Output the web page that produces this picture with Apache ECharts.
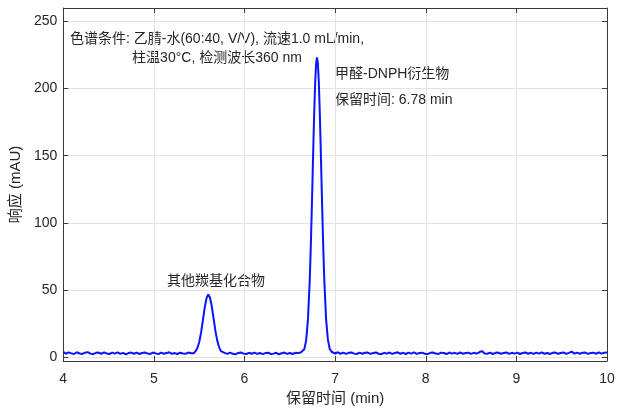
<!DOCTYPE html>
<html>
<head>
<meta charset="utf-8">
<script src="https://cdn.jsdelivr.net/npm/echarts@6/dist/echarts.min.js"></script>
<style>
  html, body { margin: 0; padding: 0; background: #fff; }
  #chart { width: 622px; height: 411px; }
</style>
</head>
<body>
<div id="chart"></div>
<script>
// baseline before the first peak
const timeA = [4.00, 4.03, 4.06, 4.09, 4.12, 4.15, 4.18, 4.21, 4.24, 4.27,
  4.30, 4.33, 4.36, 4.39, 4.42, 4.45, 4.48, 4.51, 4.54, 4.57,
  4.60, 4.63, 4.66, 4.69, 4.72, 4.75, 4.78, 4.81, 4.84, 4.87,
  4.90, 4.93, 4.96, 4.99, 5.02, 5.05, 5.08, 5.11, 5.14, 5.17,
  5.20, 5.23, 5.26, 5.29, 5.32, 5.35, 5.38, 5.41, 5.44];
const respA = [3.8, 2.4, 3.4, 2.7, 2.2, 3.5, 2.6, 2.3, 3.2, 3.6,
  2.5, 2.1, 3.1, 3.3, 2.4, 3.4, 2.6, 2.2, 3.2, 2.5,
  3.5, 2.3, 3.1, 2.0, 2.9, 3.3, 2.4, 3.2, 2.2, 3.0,
  3.4, 2.5, 2.3, 3.3, 2.7, 2.1, 3.2, 2.4, 3.0, 3.5,
  2.3, 2.9, 2.2, 3.2, 2.6, 2.4, 3.3, 2.8, 2.7];

// other carbonyl compounds (~5.6 min)
const timeP1 = [5.46, 5.48, 5.50, 5.52, 5.54, 5.56, 5.58, 5.60,
  5.62, 5.64, 5.66, 5.68, 5.70, 5.72, 5.74, 5.76];
const respP1 = [4.3, 6.7, 11.0, 17.9, 26.9, 36.4, 43.6, 46.6,
  44.1, 37.2, 28.0, 19.0, 12.0, 7.2, 4.4, 3.3];

// baseline between peaks
const timeC = [5.78, 5.81, 5.84, 5.87, 5.90, 5.93, 5.96, 5.99, 6.02, 6.05,
  6.08, 6.11, 6.14, 6.17, 6.20, 6.23, 6.26, 6.29, 6.32, 6.35,
  6.38, 6.41, 6.44, 6.47, 6.50, 6.53, 6.56, 6.59, 6.62];
const respC = [3.1, 2.3, 3.2, 2.4, 2.0, 3.0, 3.4, 2.5, 2.2, 3.1,
  2.4, 3.3, 2.3, 3.0, 2.1, 2.9, 3.2, 2.2, 2.5, 3.1,
  2.0, 2.8, 3.3, 2.3, 3.0, 2.2, 3.1, 3.0, 3.4];

// formaldehyde-DNPH peak (~6.8 min)
const timeP2 = [6.64, 6.66, 6.68, 6.70, 6.72, 6.73, 6.74, 6.75, 6.76, 6.77,
  6.78, 6.79, 6.80, 6.81, 6.82, 6.83, 6.84, 6.85, 6.86, 6.87,
  6.88, 6.90, 6.92, 6.94, 6.96, 6.98];
const respP2 = [3.6, 5.8, 12.4, 27.8, 57.6, 78.9, 103.7, 130.9, 158.6, 184.1,
  204.9, 218.5, 223.2, 218.3, 204.6, 183.7, 158.2, 130.6, 103.9, 79.2,
  58.0, 28.4, 12.9, 6.1, 3.9, 3.1];

// baseline after the main peak
const timeE = [7.00, 7.03, 7.06, 7.09, 7.12, 7.15, 7.18, 7.21, 7.24, 7.27,
  7.30, 7.33, 7.36, 7.39, 7.42, 7.45, 7.48, 7.51, 7.54, 7.57,
  7.60, 7.63, 7.66, 7.69, 7.72, 7.75, 7.78, 7.81, 7.84, 7.87,
  7.90, 7.93, 7.96, 7.99, 8.02, 8.05, 8.08, 8.11, 8.14, 8.17,
  8.20, 8.23, 8.26, 8.29, 8.32, 8.35, 8.38, 8.41, 8.44, 8.47,
  8.50, 8.53, 8.56, 8.59, 8.62, 8.65, 8.68, 8.71, 8.74, 8.77,
  8.80, 8.83, 8.86, 8.89, 8.92, 8.95, 8.98, 9.01, 9.04, 9.07,
  9.10, 9.13, 9.16, 9.19, 9.22, 9.25, 9.28, 9.31, 9.34, 9.37,
  9.40, 9.43, 9.46, 9.49, 9.52, 9.55, 9.58, 9.61, 9.64, 9.67,
  9.70, 9.73, 9.76, 9.79, 9.82, 9.85, 9.88, 9.91, 9.94, 9.97,
  10.00];
const respE = [2.6, 3.5, 2.4, 3.2, 2.3, 3.1, 3.4, 2.5, 2.2, 3.2,
  2.4, 3.1, 3.3, 2.3, 3.0, 3.4, 2.4, 2.1, 3.1, 2.5,
  3.3, 2.3, 3.0, 3.5, 2.4, 3.1, 2.2, 3.2, 2.5, 3.4,
  2.3, 3.0, 3.2, 2.4, 2.1, 3.1, 3.3, 2.5, 2.3, 3.2,
  3.0, 2.2, 3.3, 2.5, 3.1, 2.3, 3.4, 2.4, 3.0, 3.2,
  2.3, 3.1, 2.5, 3.5, 4.4, 2.6, 2.4, 3.2, 2.2, 3.1,
  3.3, 2.4, 3.0, 3.4, 2.3, 3.1, 2.5, 3.2, 2.2, 3.0,
  3.4, 2.4, 3.1, 2.3, 3.2, 2.5, 3.5, 2.4, 3.0, 2.2,
  3.1, 3.3, 2.4, 3.0, 3.4, 2.3, 3.1, 4.0, 2.5, 3.2,
  2.4, 3.1, 3.3, 2.3, 3.0, 3.2, 2.4, 3.4, 2.5, 3.1,
  3.3];

const yTicks = [0, 50, 100, 150, 200, 250];

const retention = [].concat(timeA, timeP1, timeC, timeP2, timeE);
const response = [].concat(respA, respP1, respC, respP2, respE);
const lineData = retention.map((t, i) => [t, response[i]]);

const font = '"Liberation Sans", Arial, "Noto Sans CJK SC", sans-serif';
const axisColor = '#3a3a3a';
const textColor = '#262626';

const tickCfg = { show: true, inside: true, length: 5, lineStyle: { color: axisColor, width: 1 } };
const lineCfg = { show: true, onZero: false, lineStyle: { color: axisColor, width: 1 } };

const myChart = echarts.init(document.getElementById('chart'));

myChart.setOption({
  animation: false,
  textStyle: { fontFamily: font },
  grid: { left: 63, top: 8, width: 544, height: 355, containLabel: false },
  xAxis: [{
    type: 'value', min: 4, max: 10, interval: 1,
    name: '保留时间 (min)', nameLocation: 'middle', nameGap: 30,
    nameTextStyle: { color: textColor, fontSize: 15, fontFamily: font },
    axisLine: lineCfg, axisTick: tickCfg,
    axisLabel: { color: textColor, fontSize: 14, margin: 11, fontFamily: font },
    splitLine: { show: true, lineStyle: { color: '#e3e3e3', width: 1 } }
  }, {
    type: 'value', min: 4, max: 10, interval: 1, position: 'top',
    axisLine: lineCfg, axisTick: tickCfg,
    axisLabel: { show: false }, splitLine: { show: false }
  }],
  yAxis: [{
    type: 'value', min: -3, max: 260,
    name: '响应 (mAU)', nameLocation: 'middle', nameGap: 38, nameRotate: 90,
    nameTextStyle: { color: textColor, fontSize: 15, fontFamily: font },
    axisLine: lineCfg,
    axisTick: Object.assign({ customValues: yTicks }, tickCfg),
    axisLabel: { customValues: yTicks, color: textColor, fontSize: 14, margin: 6, fontFamily: font },
    splitLine: { show: true, lineStyle: { color: '#e3e3e3', width: 1 } }
  }, {
    type: 'value', min: -3, max: 260, position: 'right',
    axisLine: lineCfg,
    axisTick: Object.assign({ customValues: yTicks }, tickCfg),
    axisLabel: { show: false }, splitLine: { show: false }
  }],
  graphic: [
    { type: 'text', x: 217, y: 30, silent: true,
      style: { text: '色谱条件: 乙腈-水(60:40, V/V), 流速1.0 mL/min,\n柱温30°C, 检测波长360 nm',
        align: 'center', verticalAlign: 'top', fill: textColor, font: '14px ' + font, lineHeight: 19 } },
    { type: 'text', x: 335, y: 67, silent: true,
      style: { text: '甲醛-DNPH衍生物', verticalAlign: 'top', fill: textColor, font: '14px ' + font } },
    { type: 'text', x: 335, y: 93, silent: true,
      style: { text: '保留时间: 6.78 min', verticalAlign: 'top', fill: textColor, font: '14px ' + font } },
    { type: 'text', x: 167, y: 274, silent: true,
      style: { text: '其他羰基化合物', verticalAlign: 'top', fill: textColor, font: '14px ' + font } }
  ],
  series: [{
    type: 'line',
    xAxisIndex: 0, yAxisIndex: 0,
    data: lineData,
    showSymbol: false,
    lineStyle: { color: '#0a14ff', width: 2 },
    z: 5
  }]
});
</script>
</body>
</html>
